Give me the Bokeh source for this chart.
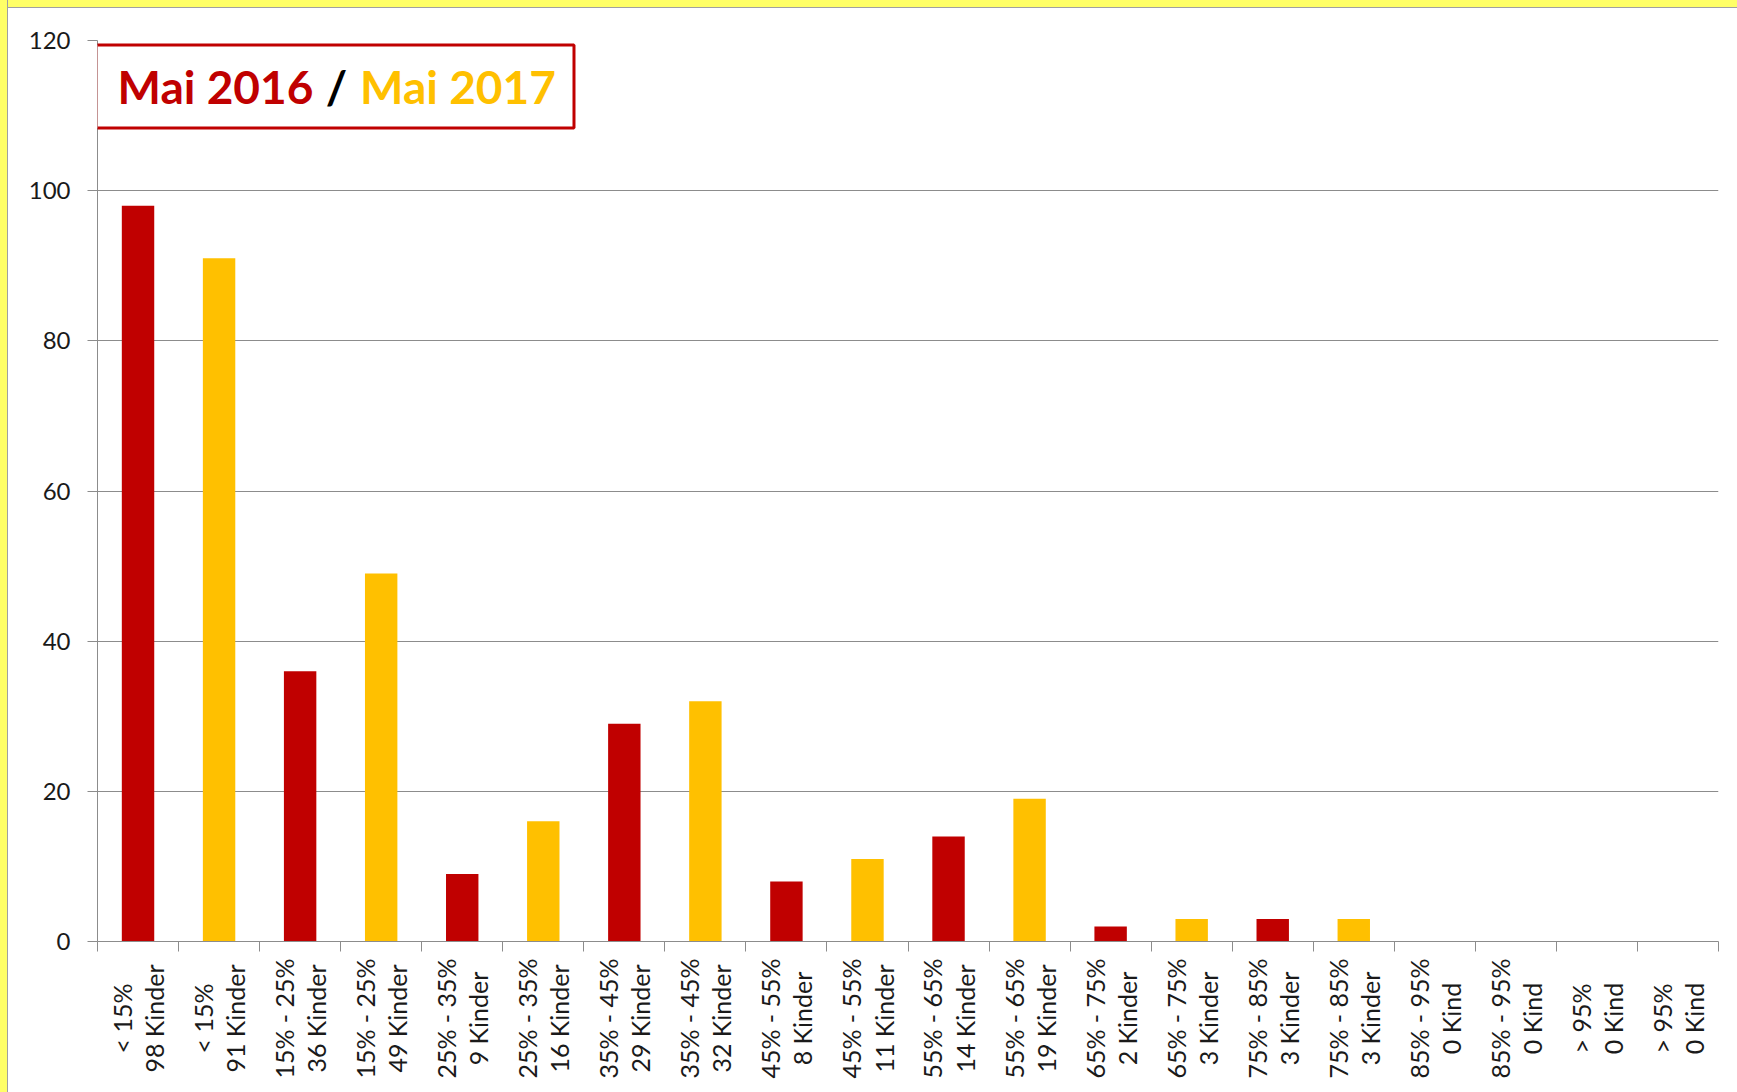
import math
from bokeh.plotting import figure
from bokeh.layouts import column
from bokeh.models import FixedTicker, Range1d, Label, BoxAnnotation, ColumnDataSource
from bokeh.core.properties import value
from bokeh.embed import file_html
from bokeh.resources import INLINE

# ---- data ----
ranges = ["< 15%", "< 15%", "15% - 25%", "15% - 25%", "25% - 35%", "25% - 35%",
          "35% - 45%", "35% - 45%", "45% - 55%", "45% - 55%", "55% - 65%", "55% - 65%",
          "65% - 75%", "65% - 75%", "75% - 85%", "75% - 85%", "85% - 95%", "85% - 95%",
          "> 95%", "> 95%"]
counts = [98, 91, 36, 49, 9, 16, 29, 32, 8, 11, 14, 19, 2, 3, 3, 3, 0, 0, 0, 0]
units = ["Kinder"] * 16 + ["Kind"] * 4
years = ["Mai 2016", "Mai 2017"] * 10
year_colors = {"Mai 2016": "#C00000", "Mai 2017": "#FFC000"}
y_ticks = [0, 20, 40, 60, 80, 100, 120]

tick_labels = [f"{r}\n{c} {u}" for r, c, u in zip(ranges, counts, units)]

n = len(counts)
centers = [i + 0.5 for i in range(n)]
boundaries = [float(i) for i in range(n + 1)]

src = ColumnDataSource(dict(x=centers, top=counts,
                            color=[year_colors[y] for y in years]))

GRID = "#8c8c8c"
W = 1728
H_MAIN = 948
H_LABELS = 135

p = figure(width=W, height=H_MAIN, x_range=Range1d(0, n), y_range=Range1d(0, 120),
           output_backend="svg", toolbar_location=None,
           min_border_left=89, min_border_right=18, min_border_top=32, min_border_bottom=15)
p.outline_line_color = None
p.background_fill_color = "white"
p.border_fill_color = "white"

p.vbar(x="x", top="top", width=0.4, color="color", line_color=None, source=src)

# x axis: tick marks at category boundaries (labels drawn in the strip below)
xa = p.xaxis[0]
xa.ticker = FixedTicker(ticks=centers, minor_ticks=boundaries)
xa.major_label_overrides = {c: "" for c in centers}
xa.major_label_text_font_size = "0px"
xa.major_label_standoff = 0
xa.major_tick_line_color = None
xa.major_tick_out = 10
xa.major_tick_in = 0
xa.minor_tick_out = 10
xa.minor_tick_in = 0
xa.minor_tick_line_color = GRID
xa.axis_line_color = GRID

ya = p.yaxis[0]
ya.ticker = FixedTicker(ticks=y_ticks)
ya.major_tick_out = 10
ya.major_tick_in = 0
ya.minor_tick_line_color = None
ya.major_tick_line_color = GRID
ya.axis_line_color = GRID
ya.major_label_standoff = 17
ya.major_label_text_font = "Lato"
ya.major_label_text_font_size = "24px"
ya.major_label_text_color = "#1a1a1a"

p.xgrid.visible = False
p.ygrid.grid_line_color = GRID
p.ygrid.grid_line_width = 1

# title box
p.add_layout(BoxAnnotation(left=-0.0185, right=5.879, top=119.4, bottom=108.35,
                           fill_color="white", fill_alpha=1.0,
                           line_color="#C00000", line_alpha=1.0, line_width=3))
for txt, xc, col in [("Mai 2016", 1.456, "#C00000"), ("/", 2.949, "#000000"),
                     ("Mai 2017", 4.448, "#FFC000")]:
    p.add_layout(Label(x=xc, y=113.9, text=txt, text_font="Lato", text_font_style="bold",
                       text_font_size="46px", text_color=col,
                       text_align="center", text_baseline="alphabetic"))

# category labels strip, sharing the x range of the chart
lab = figure(width=W, height=H_LABELS, x_range=p.x_range, y_range=Range1d(0, H_LABELS),
             output_backend="svg", toolbar_location=None,
             x_axis_location=None, y_axis_location=None,
             min_border_left=89, min_border_right=18, min_border_top=0, min_border_bottom=0)
lab.outline_line_color = None
lab.xgrid.visible = False
lab.ygrid.visible = False
lab.background_fill_color = "white"
lab.border_fill_color = "white"
lab_src = ColumnDataSource(dict(x=centers, y=[H_LABELS - 62] * n, text=tick_labels))
lab.text(x="x", y="y", text="text", source=lab_src, angle=math.pi / 2,
         text_font=value("Lato"), text_font_size="25px", text_line_height=1.07,
         text_color="#1a1a1a", text_align="center", text_baseline="middle")

layout = column(p, lab, spacing=0)

html = file_html(layout, INLINE)
style = ('<style>body{padding:8px 0 0 8px !important;background-color:#FFFFFF !important;'
         'background-repeat:no-repeat !important;'
         'background-image:linear-gradient(to right,#FFFF66 0,#FFFF66 7px,#A0A0A0 7px,#A0A0A0 8px,transparent 8px),'
         'linear-gradient(to bottom,#FFFF66 0,#FFFF66 7px,#A0A0A0 7px,#A0A0A0 8px,#FFFFFF 8px) !important;}</style>')
html = html.replace("</head>", style + "</head>", 1)
open("out.html", "w").write(html)
